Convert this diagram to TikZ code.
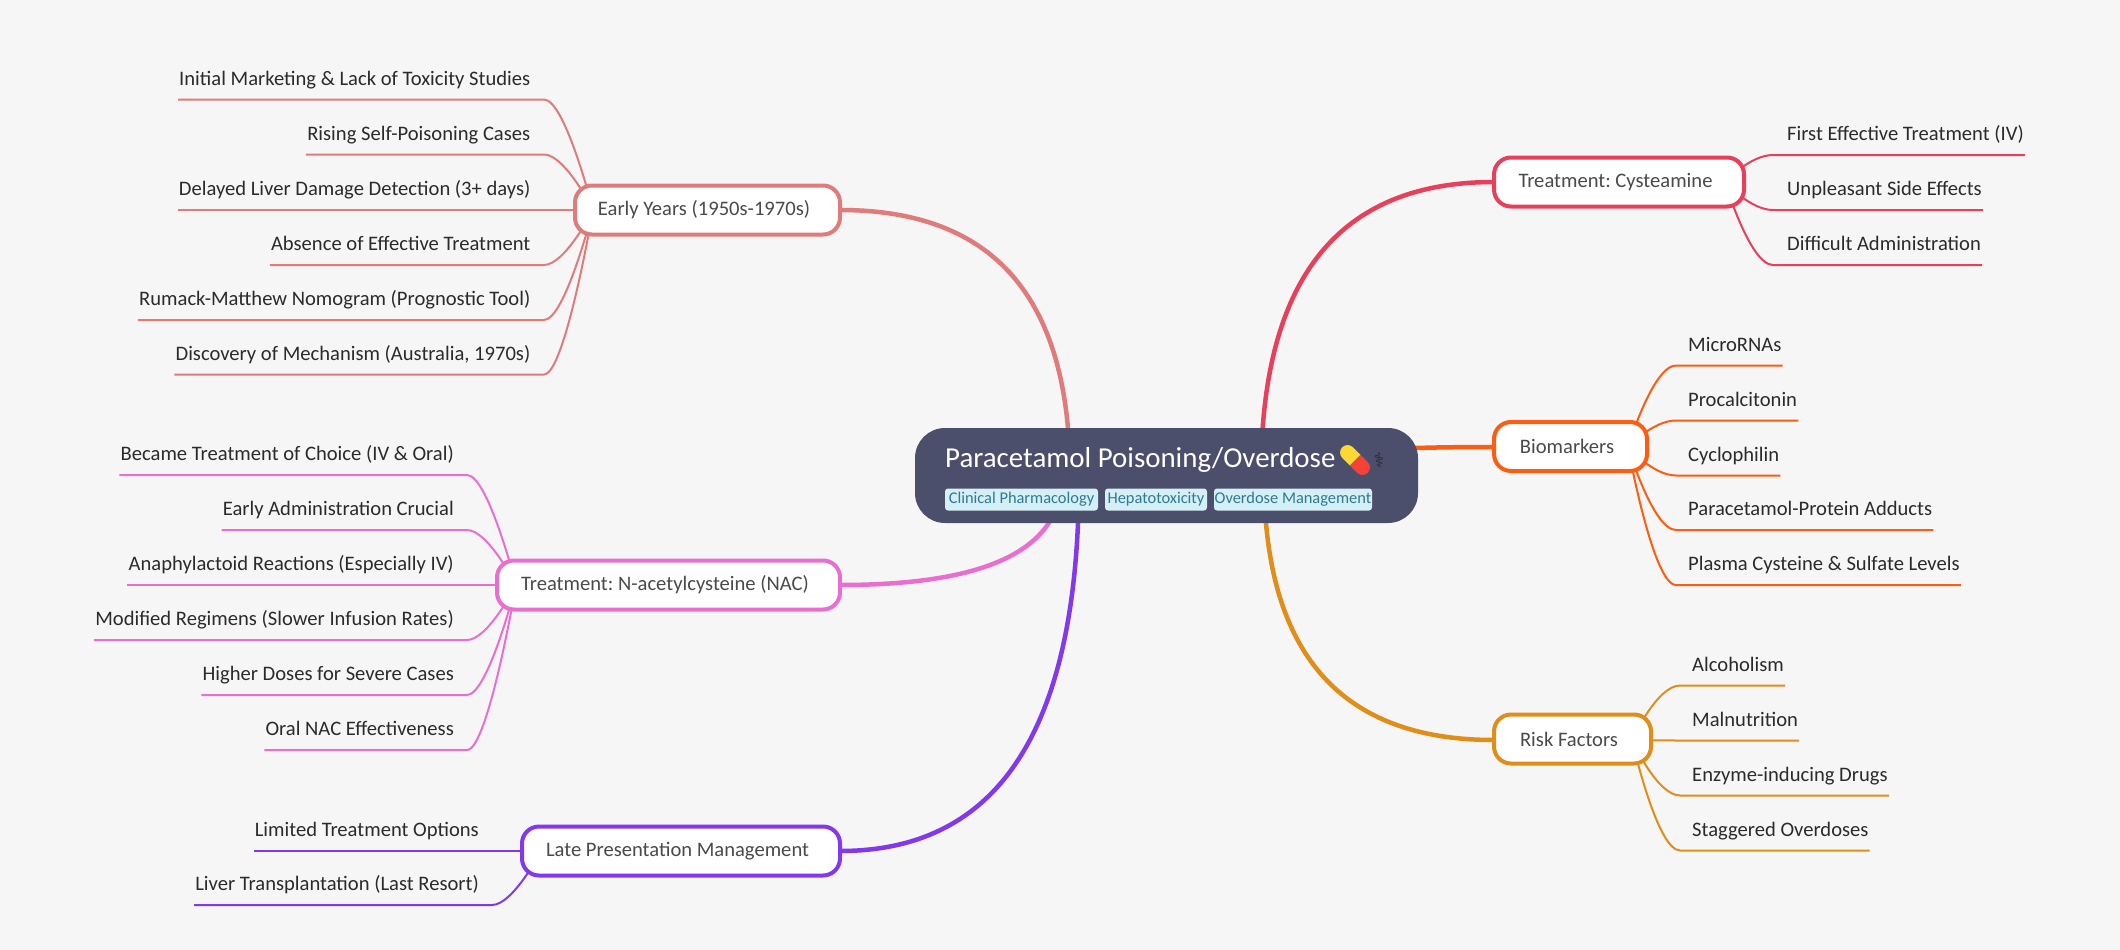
\documentclass[tikz,border=0pt]{standalone}
\usepackage{fontspec}
\setmainfont{Carlito}
\newfontfamily\symfont{DejaVu Sans}
\usetikzlibrary{calc}
\frenchspacing
\definecolor{bgc}{HTML}{F6F6F6}
\definecolor{rootc}{HTML}{4C4F6B}
\definecolor{tagbg}{HTML}{D4EFF6}
\definecolor{tagfg}{HTML}{2F7A90}
\definecolor{leaftxt}{HTML}{2B2B2B}
\definecolor{brtxt}{HTML}{4A4A4A}
\definecolor{staffc}{HTML}{2A2A30}
\definecolor{cE}{HTML}{E07B7B}
\definecolor{cN}{HTML}{E86FD0}
\definecolor{cL}{HTML}{8338EC}
\definecolor{cC}{HTML}{E8405A}
\definecolor{cB}{HTML}{FB5D12}
\definecolor{cR}{HTML}{E08E1A}
\definecolor{pillY}{HTML}{FDD835}
\definecolor{pillR}{HTML}{F44336}
\tikzset{
  branchnode/.style={draw=#1,line width=4pt,fill=white,rounded corners=17pt,inner sep=0pt,
    minimum height=49pt,text=brtxt,font=\fontsize{20.6}{24}\selectfont,
    execute at end node={\kern7pt}},
  leafnode/.style={inner xsep=1pt,inner ysep=0pt,text depth=14pt,text height=15pt,text=leaftxt,
    font=\fontsize{20.6}{24}\selectfont},
  mainline/.style={draw=#1,line width=4.5pt},
  subline/.style={draw=#1,line width=2pt},
  tagnode/.style={fill=tagbg,rounded corners=3pt,text=tagfg,inner xsep=0pt,inner ysep=0pt,
    minimum height=22pt,font=\fontsize{16.4}{20}\selectfont},
}
\newcommand\lleaf[6]{%
  \node[leafnode,anchor=south east] (#1) at (#4,#5) {#6};
  \draw[subline=#3] (#1.south west) -- (#2E |- #1.south) .. controls (#2C |- #1.south) and (#2S) .. (#2S);
}
\newcommand\rleaf[6]{%
  \node[leafnode,anchor=south west] (#1) at (#4,#5) {#6};
  \draw[subline=#3] (#1.south east) -- (#2E |- #1.south) .. controls (#2C |- #1.south) and (#2S) .. (#2S);
}
\newcommand\mainconn[3]{%
  \draw[mainline=#3] (#1) .. controls ($(#1)!.67!(#1 |- #2)$) and ($(#1 |- #2)!.33!(#2)$) .. (#2);
}
\begin{document}
\begin{tikzpicture}[x=1pt,y=-1pt]
\useasboundingbox (0,0) rectangle (2120,950);
\fill[bgc] (0,0) rectangle (2120,950);

\coordinate (eS) at (593,210); \coordinate (eC) at (565,210); \coordinate (eE) at (544,210);
\coordinate (nS) at (516,585); \coordinate (nC) at (488,585); \coordinate (nE) at (467,585);
\coordinate (lS) at (541,851); \coordinate (lC) at (513,851); \coordinate (lE) at (492,851);
\coordinate (cS) at (1725,182); \coordinate (cC) at (1750,182); \coordinate (cE) at (1773,182);
\coordinate (bS) at (1628,447); \coordinate (bC) at (1653,447); \coordinate (bE) at (1676,447);
\coordinate (rS) at (1632,740); \coordinate (rC) at (1657,740); \coordinate (rE) at (1680,740);

\lleaf{e1}{e}{cE}{531.5}{99.5}{Initial Marketing \& Lack of Toxicity Studies}
\lleaf{e2}{e}{cE}{531.5}{154.5}{Rising Self-Poisoning Cases}
\lleaf{e3}{e}{cE}{531.5}{210}{Delayed Liver Damage Detection (3+ days)}
\lleaf{e4}{e}{cE}{531.5}{265}{Absence of Effective Treatment}
\lleaf{e5}{e}{cE}{531.5}{320}{Rumack-Matthew Nomogram (Prognostic Tool)}
\lleaf{e6}{e}{cE}{531.5}{374.5}{Discovery of Mechanism (Australia, 1970s)}
\lleaf{n1}{n}{cN}{455}{475}{Became Treatment of Choice (IV \& Oral)}
\lleaf{n2}{n}{cN}{455}{530}{Early Administration Crucial}
\lleaf{n3}{n}{cN}{455}{585}{Anaphylactoid Reactions (Especially IV)}
\lleaf{n4}{n}{cN}{455}{640}{Modified Regimens (Slower Infusion Rates)}
\lleaf{n5}{n}{cN}{455}{695}{Higher Doses for Severe Cases}
\lleaf{n6}{n}{cN}{455}{750}{Oral NAC Effectiveness}
\lleaf{l1}{l}{cL}{480}{851}{Limited Treatment Options}
\lleaf{l2}{l}{cL}{480}{905}{Liver Transplantation (Last Resort)}
\rleaf{c1}{c}{cC}{1786}{155}{First Effective Treatment (IV)}
\rleaf{c2}{c}{cC}{1786}{210}{Unpleasant Side Effects}
\rleaf{c3}{c}{cC}{1786}{265}{Difficult Administration}
\rleaf{b1}{b}{cB}{1687}{365.5}{MicroRNAs}
\rleaf{b2}{b}{cB}{1687}{420.5}{Procalcitonin}
\rleaf{b3}{b}{cB}{1687}{475.5}{Cyclophilin}
\rleaf{b4}{b}{cB}{1687}{530}{Paracetamol-Protein Adducts}
\rleaf{b5}{b}{cB}{1687}{585}{Plasma Cysteine \& Sulfate Levels}
\rleaf{r1}{r}{cR}{1691}{685.5}{Alcoholism}
\rleaf{r2}{r}{cR}{1691}{740.5}{Malnutrition}
\rleaf{r3}{r}{cR}{1691}{795.5}{Enzyme-inducing Drugs}
\rleaf{r4}{r}{cR}{1691}{850.5}{Staggered Overdoses}

\coordinate (oE) at (1070,476); \coordinate (oN) at (1062,476); \coordinate (oL) at (1079,476);
\coordinate (oC) at (1261,476); \coordinate (oB) at (1261,476); \coordinate (oR) at (1264,476);
\coordinate (aE) at (840,210); \coordinate (aN) at (840,585); \coordinate (aL) at (840,851);
\coordinate (aC) at (1494,182); \coordinate (aB) at (1494,447); \coordinate (aR) at (1494,740);

\mainconn{oE}{aE}{cE}
\mainconn{oN}{aN}{cN}
\mainconn{oL}{aL}{cL}
\mainconn{oC}{aC}{cC}
\mainconn{oB}{aB}{cB}
\mainconn{oR}{aR}{cR}

\node[branchnode=cE,minimum width=265pt] (early) at (707.5,210) {Early Years (1950s-1970s)};
\node[branchnode=cN,minimum width=343pt] (nac) at (668.5,585) {Treatment: N-acetylcysteine (NAC)};
\node[branchnode=cL,minimum width=318pt] (late) at (681,851) {Late Presentation Management};
\node[branchnode=cC,minimum width=250pt] (cyst) at (1619,182) {Treatment: Cysteamine};
\node[branchnode=cB,minimum width=153pt] (bio) at (1570.5,446.5) {Biomarkers};
\node[branchnode=cR,minimum width=157pt] (risk) at (1572.5,739) {Risk Factors};

\node[fill=rootc,rounded corners=30pt,minimum width=503pt,minimum height=95pt,inner sep=0pt] (root) at (1166.5,475.5) {};
\node[anchor=base west,inner sep=0pt,text=white,font=\fontsize{28.9}{32}\selectfont] (title) at (945,467) {Paracetamol Poisoning/Overdose};
\node[tagnode,minimum width=153pt] (t1) at (1021.5,499.5) {Clinical Pharmacology};
\node[tagnode,minimum width=102pt] (t2) at (1156,499.5) {Hepatotoxicity};
\node[tagnode,minimum width=158pt] (t3) at (1293,499.5) {Overdose Management};
\begin{scope}[shift={(1355,460)},rotate=-45]
\fill[pillR] (0,-7.5) -- (10.5,-7.5) arc (-90:90:7.5) -- (0,7.5) -- cycle;
\fill[pillY] (0,-7.5) -- (-10.5,-7.5) arc (270:90:7.5) -- (0,7.5) -- cycle;
\end{scope}
\node[inner sep=0pt,text=staffc,font=\symfont\fontsize{20}{22}\selectfont] (staff) at (1379,460) {⚕};
\end{tikzpicture}
\end{document}
